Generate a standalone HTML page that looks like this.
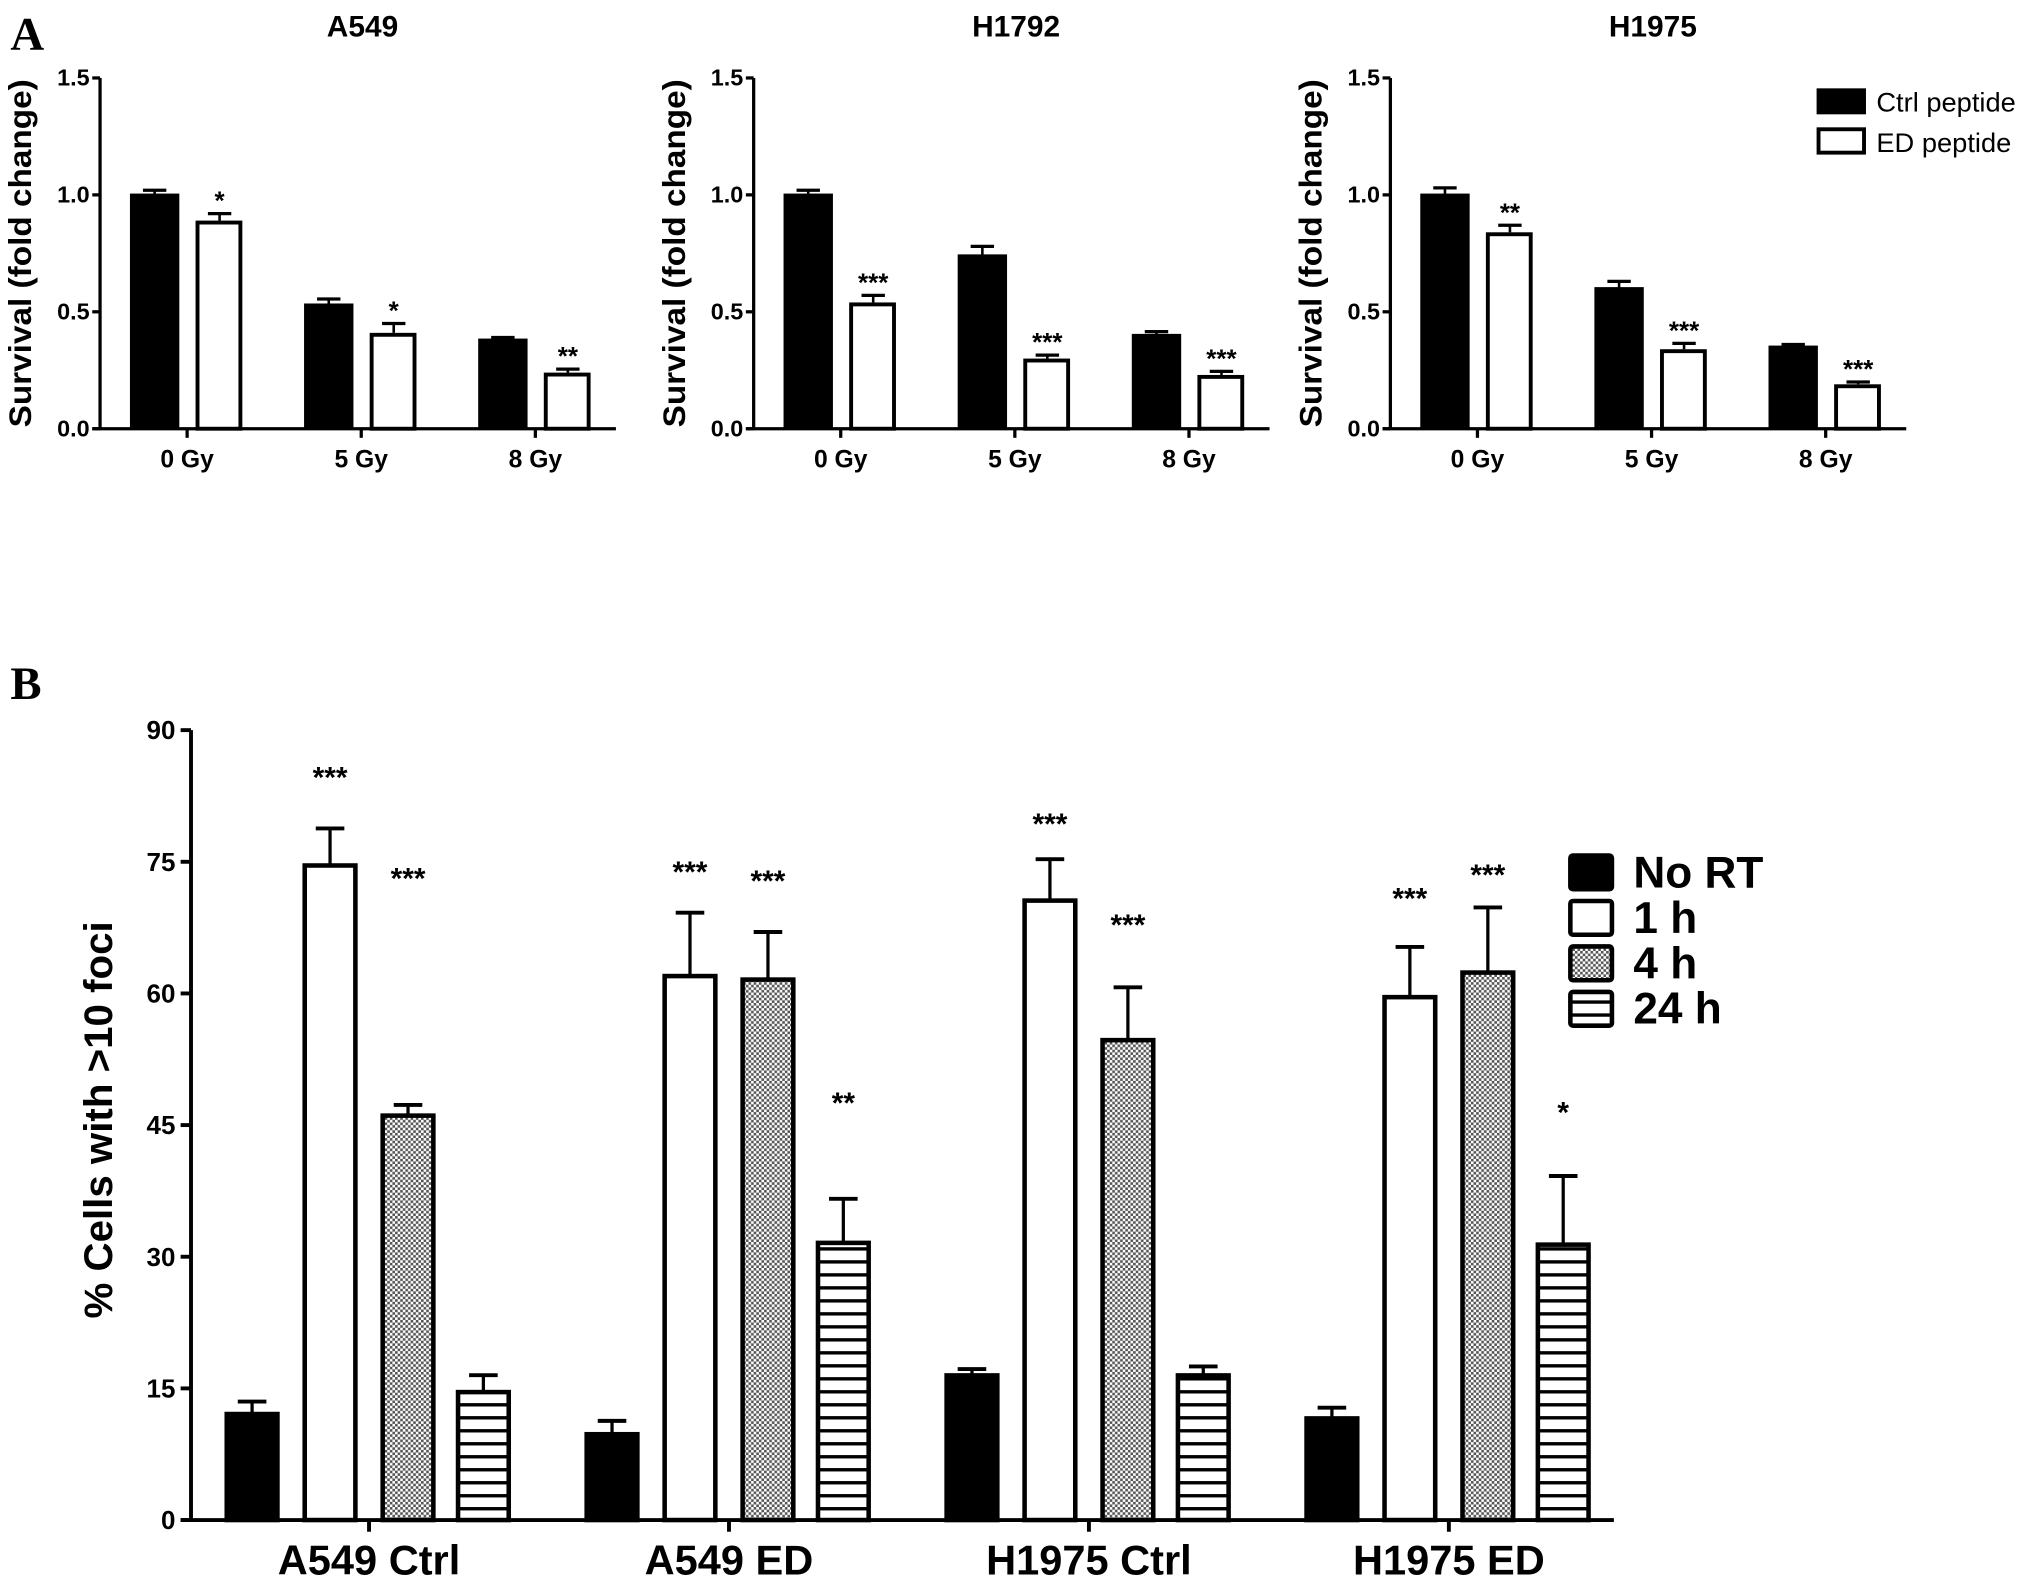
<!DOCTYPE html>
<html><head><meta charset="utf-8"><style>
html,body{margin:0;padding:0;background:#fff;}
svg{display:block;font-family:"Liberation Sans",Arial,sans-serif;}
</style></head><body>
<svg id="fig" width="2031" height="1585" viewBox="0 0 1563 1220" preserveAspectRatio="none" xmlns="http://www.w3.org/2000/svg">
<defs>
<pattern id="chk" width="4" height="4" patternUnits="userSpaceOnUse">
<rect width="4" height="4" fill="#fff"/><rect width="2" height="2" fill="#555"/><rect x="2" y="2" width="2" height="2" fill="#555"/>
</pattern>
<pattern id="stripe" width="10" height="10" patternUnits="userSpaceOnUse">
<rect width="10" height="10" fill="#fff"/><rect y="0" width="10" height="2.6" fill="#000"/>
</pattern>
</defs>
<text x="8" y="38" font-family="Liberation Serif,serif" font-weight="bold" font-size="36">A</text>
<text x="8" y="538" font-family="Liberation Serif,serif" font-weight="bold" font-size="36">B</text>
<g id="panelA"></g>
<g id="panelB"></g>
</svg>
<script>
// ---- Panel A data ----
const aCategories = ['0 Gy','5 Gy','8 Gy'];
const aTitles = ['A549','H1792','H1975'];
const aTicks = [0.0, 0.5, 1.0, 1.5];
const aCtrlA549 = [1.0, 0.53, 0.38];
const aCtrlA549Err = [0.02, 0.025, 0.01];
const aEdA549 = [0.89, 0.41, 0.24];
const aEdA549Err = [0.03, 0.04, 0.015];
const aStarsA549 = ['*','*','**'];
const aCtrlH1792 = [1.0, 0.74, 0.40];
const aCtrlH1792Err = [0.02, 0.04, 0.015];
const aEdH1792 = [0.54, 0.30, 0.23];
const aEdH1792Err = [0.03, 0.015, 0.015];
const aStarsH1792 = ['***','***','***'];
const aCtrlH1975 = [1.0, 0.60, 0.35];
const aCtrlH1975Err = [0.03, 0.03, 0.01];
const aEdH1975 = [0.84, 0.34, 0.19];
const aEdH1975Err = [0.03, 0.025, 0.01];
const aStarsH1975 = ['**','***','***'];

// ---- Panel B data ----
const bCategories = ['A549 Ctrl','A549 ED','H1975 Ctrl','H1975 ED'];
const bTicks = [0,15,30,45,60,75,90];
const bSeriesNames = ['No RT','1 h','4 h','24 h'];
const bNoRT = [12.3, 10.0, 16.7, 11.8];
const bNoRTErr = [1.2, 1.3, 0.5, 1.0];
const b1h = [74.8, 62.2, 70.8, 59.8];
const b1hErr = [4.0, 7.0, 4.5, 5.5];
const b4h = [46.3, 61.8, 54.9, 62.6];
const b4hErr = [1.0, 5.2, 5.8, 7.2];
const b24h = [14.8, 31.8, 16.7, 31.6];
const b24hErr = [1.7, 4.8, 0.8, 7.6];
const b1hStars = ['***','***','***','***'];
const b4hStars = ['***','***','***','***'];
const b24hStars = ['','**','','*'];
const b1hStarLevel = [84.8, 74.0, 79.5, 71.0];
const b4hStarLevel = [73.3, 73.0, 68.0, 73.7];
const b24hStarLevel = [0, 47.7, 0, 46.6];

const NS='http://www.w3.org/2000/svg';
function mk(parent,tag,attrs,text){const e=document.createElementNS(NS,tag);for(const k in attrs)e.setAttribute(k,attrs[k]);if(text!==undefined)e.textContent=text;parent.appendChild(e);return e;}

// ---- Panel A ----
const gA=document.getElementById('panelA');
const aAxisX=[77,580,1070];
const aSets=[[aCtrlA549,aCtrlA549Err,aEdA549,aEdA549Err,aStarsA549],[aCtrlH1792,aCtrlH1792Err,aEdH1792,aEdH1792Err,aStarsH1792],[aCtrlH1975,aCtrlH1975Err,aEdH1975,aEdH1975Err,aStarsH1975]];
const aY0=330,aY1=60;
function ayScale(v){return aY0-(v/1.5)*(aY0-aY1);}
aSets.forEach((s,ci)=>{
  const ax=aAxisX[ci];
  const xs=i=>ax+67+i*134;
  const g=mk(gA,'g',{});
  
  
  const t=mk(g,'text',{x:ax+202,y:28,'text-anchor':'middle','font-weight':'bold','font-size':23},aTitles[ci]);
  
  
  const yl=mk(g,'text',{transform:`translate(${ax-53},${(aY0+aY1)/2}) rotate(-90)`,'text-anchor':'middle','font-weight':'bold','font-size':24,'textLength':268,'lengthAdjust':'spacingAndGlyphs'},'Survival (fold change)');
  
  
  mk(g,'line',{x1:ax,y1:aY1,x2:ax,y2:aY0+1,stroke:'#000','stroke-width':2.5});
  mk(g,'line',{x1:ax-6,y1:aY0,x2:ax+397,y2:aY0,stroke:'#000','stroke-width':2.5});
  aTicks.forEach(tv=>{
    const y=ayScale(tv);
    mk(g,'line',{x1:ax-6,y1:y,x2:ax,y2:y,stroke:'#000','stroke-width':2.5});
    const tl=mk(g,'text',{x:ax-8,y:y+6,'text-anchor':'end','font-weight':'bold','font-size':18},tv.toFixed(1));
    
    
  });
  aCategories.forEach((c,i)=>{
    const cx=xs(i);
    mk(g,'line',{x1:cx,y1:aY0,x2:cx,y2:aY0+7,stroke:'#000','stroke-width':2.5});
    const cl=mk(g,'text',{x:cx,y:360,'text-anchor':'middle','font-weight':'bold','font-size':19},c);
    
    
    const yc=ayScale(s[0][i]), ye=ayScale(s[0][i]+s[1][i]);
    mk(g,'line',{x1:cx-25,y1:ye,x2:cx-25,y2:yc,stroke:'#000','stroke-width':2});
    mk(g,'line',{x1:cx-34,y1:ye,x2:cx-16,y2:ye,stroke:'#000','stroke-width':2.5});
    const b1=mk(g,'rect',{x:cx-43,y:yc,width:36,height:aY0-yc,fill:'#000',stroke:'#000','stroke-width':2});
    
    
    const yd=ayScale(s[2][i]), yde=ayScale(s[2][i]+s[3][i]);
    mk(g,'line',{x1:cx+25,y1:yde,x2:cx+25,y2:yd,stroke:'#000','stroke-width':2});
    mk(g,'line',{x1:cx+16,y1:yde,x2:cx+34,y2:yde,stroke:'#000','stroke-width':2.5});
    const b2=mk(g,'rect',{x:cx+8,y:yd+1.5,width:33,height:aY0-yd-1.5,fill:'#fff',stroke:'#000','stroke-width':3});
    
    
    const st=mk(g,'text',{x:cx+25,y:yde-3,'text-anchor':'middle','font-weight':'bold','font-size':20},s[4][i]);
    
    
  });
});
// Legend A
{
  const g=mk(gA,'g',{});
  
  
  mk(g,'rect',{x:1398,y:68,width:38,height:20,fill:'#000'});
  mk(g,'text',{x:1444,y:86,'font-size':21},'Ctrl peptide');
  mk(g,'rect',{x:1399.5,y:99.5,width:35,height:18,fill:'#fff',stroke:'#000','stroke-width':3});
  mk(g,'text',{x:1444,y:117,'font-size':21},'ED peptide');
}

// ---- Panel B ----
const gB=document.getElementById('panelB');
const bAx=147,bY0=1170,bY1=562;
function byScale(v){return bY0-(v/90)*(bY0-bY1);}
function bxGroup(i){return 284+i*277;}
const bVals=[bNoRT,b1h,b4h,b24h], bErrs=[bNoRTErr,b1hErr,b4hErr,b24hErr];
const bFills=['#000','#fff','url(#chk)','url(#stripe)'];
const bOff=[-90,-30,30,88];
const bStars=[null,b1hStars,b4hStars,b24hStars], bStarLv=[null,b1hStarLevel,b4hStarLevel,b24hStarLevel];
mk(gB,'line',{x1:bAx,y1:bY1,x2:bAx,y2:bY0+1,stroke:'#000','stroke-width':3});
mk(gB,'line',{x1:bAx-8,y1:bY0,x2:1242,y2:bY0,stroke:'#000','stroke-width':3});
const ylb=mk(gB,'text',{transform:`translate(86,${(bY0+bY1)/2-4}) rotate(-90)`,'text-anchor':'middle','font-weight':'bold','font-size':31},'% Cells with >10 foci');


bTicks.forEach(tv=>{
  const y=byScale(tv);
  mk(gB,'line',{x1:bAx-8,y1:y,x2:bAx,y2:y,stroke:'#000','stroke-width':3});
  const tl=mk(gB,'text',{x:bAx-12,y:y+7,'text-anchor':'end','font-weight':'bold','font-size':20},String(tv));
  
  
});
bCategories.forEach((c,i)=>{
  const gx=bxGroup(i);
  mk(gB,'line',{x1:gx,y1:bY0,x2:gx,y2:bY0+9,stroke:'#000','stroke-width':3});
  const cl=mk(gB,'text',{x:gx,y:1212,'text-anchor':'middle','font-weight':'bold','font-size':32},c);
  
  
  bVals.forEach((ser,si)=>{
    const cx=gx+bOff[si];
    const v=ser[i], e=bErrs[si][i];
    const yv=byScale(v), ye=byScale(v+e);
    mk(gB,'line',{x1:cx,y1:ye,x2:cx,y2:yv,stroke:'#000','stroke-width':2.5});
    mk(gB,'line',{x1:cx-11,y1:ye,x2:cx+11,y2:ye,stroke:'#000','stroke-width':3});
    const r=mk(gB,'rect',{x:cx-19.5,y:yv+1.5,width:39,height:bY0-yv-1.5,fill:bFills[si],stroke:'#000','stroke-width':3.5});
    
    
    if(bStars[si] && bStars[si][i]){
      const st=mk(gB,'text',{x:cx,y:byScale(bStarLv[si][i])+9,'text-anchor':'middle','font-weight':'bold','font-size':23},bStars[si][i]);
      
      
    }
  });
});
// Legend B
{
  const g=mk(gB,'g',{});
  
  
  bSeriesNames.forEach((n,i)=>{
    const y=657+i*35;
    mk(g,'rect',{x:1208.5,y:y+1.5,width:32,height:26,fill:bFills[i],stroke:'#000','stroke-width':3.5,rx:2});
    mk(g,'text',{x:1257,y:y+26,'font-weight':'bold','font-size':34},n);
  });
}
</script>
</body></html>
